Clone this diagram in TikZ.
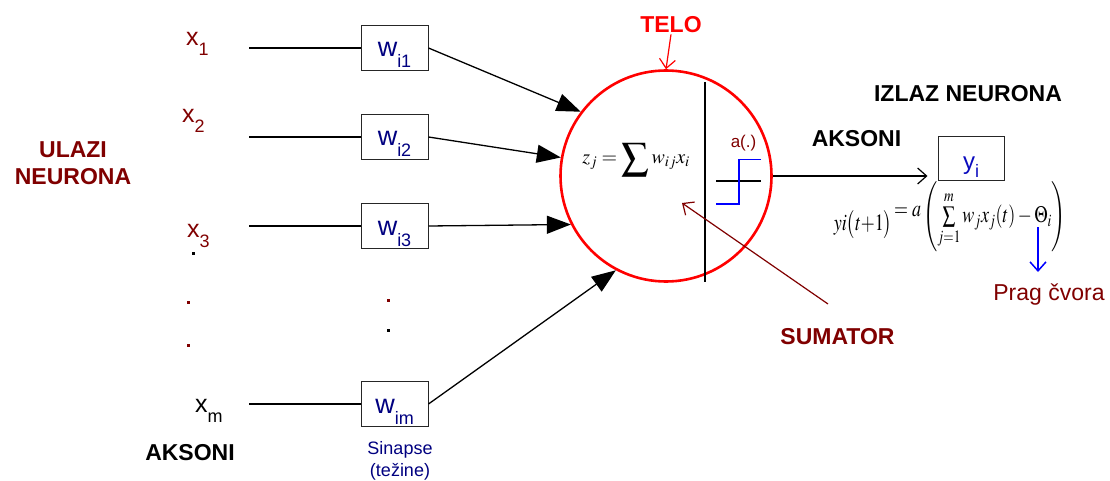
\documentclass[tikz,border=0pt]{standalone}
\usepackage{amsmath}
\usepackage{graphicx}
\usepackage{mathptmx}
\usepackage[no-math]{fontspec}
\setmainfont{Liberation Sans}
\usetikzlibrary{arrows.meta}
\definecolor{maroon}{RGB}{128,0,0}
\definecolor{navyw}{RGB}{0,0,128}
\definecolor{yblue}{RGB}{10,10,190}
\newcommand\mysub[3]{\raisebox{-#1}{\fontsize{#2}{#2}\selectfont #3}}
\begin{document}
\begin{tikzpicture}[x=1pt,y=-1pt,
  wbox/.style={draw=black!85, line width=1pt, minimum width=67pt, minimum height=45pt, inner sep=0pt,
    text=navyw, font=\fontsize{27}{27}\selectfont, text height=20pt, text depth=2pt},
  blab/.style={font=\bfseries\fontsize{23}{27}\selectfont, anchor=base, inner sep=1pt},
  xin/.style={anchor=base west, text=maroon, font=\fontsize{25}{25}\selectfont, inner sep=0pt},
  inarrow/.style={line width=1.3pt, -{Triangle[length=24pt,width=18pt]}},
  plain/.style={line width=1.2pt},
  barb/.style={-{Straight Barb[length=9pt,width=16pt]}}]
\useasboundingbox (0,0) rectangle (1110,481);

% body
\node[circle, draw=red, line width=2.6pt, minimum size=211pt, inner sep=0pt] (c) at (666,176) {};
\node (zsum) at (636,160) {\fontsize{20}{20}\selectfont$z_j = \mathop{\raisebox{-3pt}{\scalebox{1.35}{$\displaystyle\sum$}}} w_{ij}x_i$};
\draw[line width=1.2pt] (705,82) -- (705,282);
\draw[line width=1.2pt] (716,181) -- (761,181);
\draw[blue, line width=1.8pt] (716,204) -- (739,204) -- (739,159.5) -- (761,159.5);
\node[anchor=base, text=maroon, font=\fontsize{17}{17}\selectfont] (act) at (743.5,148) {a(.)};

% inputs
\node[xin] (x1) at (186,46) {x\mysub{10pt}{18}{1}};
\node[xin] (x2) at (182,123) {x\mysub{10pt}{18}{2}};
\node[xin] (x3) at (187,237) {x\mysub{10pt}{18}{3}};
\node[xin, text=black] (xm) at (195,412) {x\mysub{10pt}{18}{m}};

\node[wbox] (w1) at (394.5,48) {w\mysub{11pt}{18}{i1}};
\node[wbox] (w2) at (394.5,137) {w\mysub{11pt}{18}{i2}};
\node[wbox] (w3) at (394.5,226) {w\mysub{11pt}{18}{i3}};
\node[wbox] (wm) at (394.5,404) {w\mysub{11pt}{18}{im}};

\coordinate (s1) at (249,48);
\coordinate (s2) at (249,137);
\coordinate (s3) at (249,226);
\coordinate (sm) at (249,404);
\draw[plain] (s1) -- (w1.west);
\draw[plain] (s2) -- (w2.west);
\draw[plain] (s3) -- (w3.west);
\draw[plain] (sm) -- (wm.west);

\draw[inarrow] (w1.east) -- (c.143);
\draw[inarrow] (w2.east) -- (c.170);
\draw[inarrow] (w3.east) -- (c.207);
\draw[inarrow] (wm.east) -- (c.242);

% dots
\fill[black] (191.5,251.5) rectangle ++(3,3);
\fill[maroon] (186.5,300.5) rectangle ++(3,3);
\fill[maroon] (186.5,343.5) rectangle ++(3,3);
\fill[maroon] (386.5,298.5) rectangle ++(3,3);
\fill[black] (386.5,328.5) rectangle ++(3,3);

% labels
\node[blab, text=maroon, align=center, anchor=center] (ulazi) at (73,163) {ULAZI\\NEURONA};
\node[blab] (ak2) at (190,460) {AKSONI};
\node[text=navyw, font=\fontsize{18}{22}\selectfont, align=center] (sin) at (400,461) {Sinapse\\(težine)};

\node[blab, text=red] (telo) at (671,33) {TELO};
\draw[red, line width=1.2pt, barb] (telo.south) -- (c.north);

\node[blab] (izlaz) at (968,102) {IZLAZ NEURONA};
\node[blab] (ak1) at (856.5,147) {AKSONI};

% output
\node[draw=black!85, line width=1pt, minimum width=66pt, minimum height=44pt, inner sep=0pt,
  text=yblue, font=\fontsize{24}{24}\selectfont, text height=24pt, text depth=2pt] (yi) at (971,159) {y\mysub{8pt}{18}{i}};
\draw[line width=1.2pt, barb, shorten >=10pt] (c.east) -- (yi.west |- c.east);

\node[inner sep=0pt] (yform) at (950,217) {\scalebox{1}[1.3]{\fontsize{18}{18}\selectfont$\raisebox{-6pt}{$yi\bigl(t{+}1\bigr)$}\,\raisebox{5pt}{$=a$}\left(\vrule height 23pt depth 23pt width 0pt\sum\limits_{j=1}^{m} w_{j}x_{j}(t)-\Theta_{i}\right)$}};
\coordinate (ba) at (1038,227);
\coordinate (bb) at (1038,272);
\draw[blue, line width=1.5pt, barb] (ba) -- (bb);
\node[anchor=base, text=maroon, font=\fontsize{23}{23}\selectfont] (prag) at (1049,300) {Prag čvora};

% sumator
\node[blab, text=maroon] (sumator) at (837.5,344) {SUMATOR};
\coordinate (sa) at (828,304);
\coordinate (sb) at (682,203);
\draw[maroon, line width=1.2pt, barb] (sa) -- (sb);
\end{tikzpicture}
\end{document}
